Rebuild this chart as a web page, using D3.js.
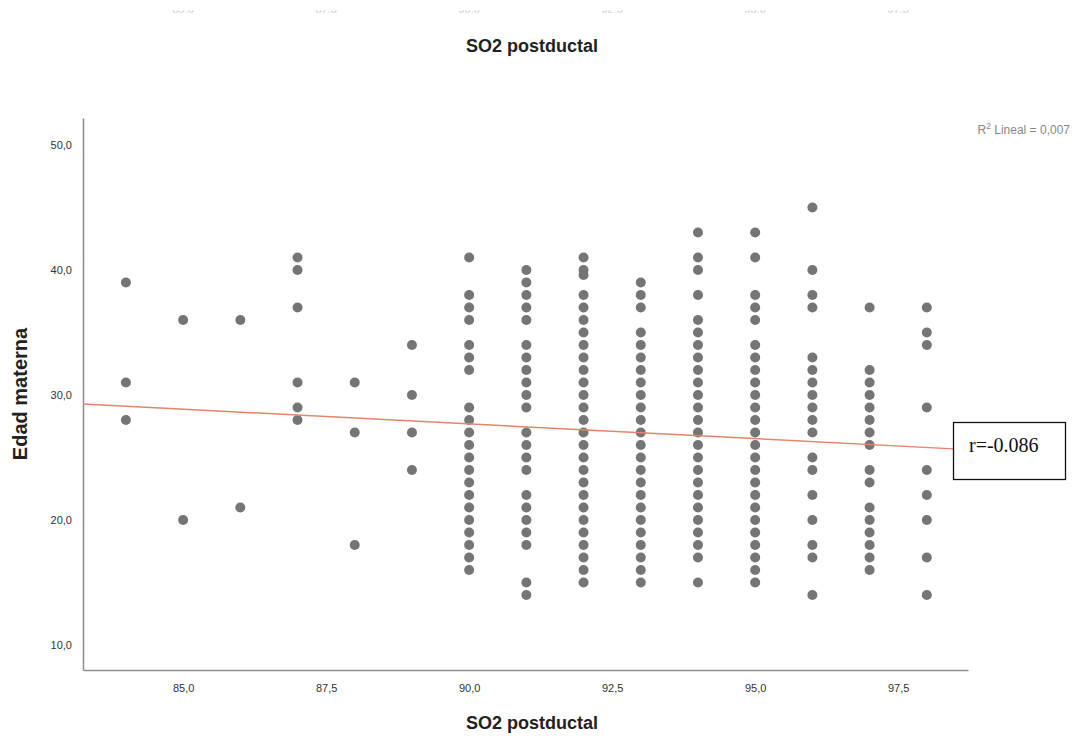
<!DOCTYPE html>
<html><head><meta charset="utf-8">
<script src="https://cdn.jsdelivr.net/npm/d3@7"></script>
<style>body{margin:0;background:#fff}svg{display:block}</style>
</head><body>
<svg id="c" width="1077" height="736"></svg>
<script>
// SO2 postductal value of each column
const so2 = [84, 85, 86, 87, 88, 89, 90, 91, 92, 93, 94, 95, 96, 97, 98];
// Edad materna values in each column
const col84 = [39, 31, 28];
const col85 = [36, 20];
const col86 = [36, 21];
const col87 = [41, 40, 37, 31, 29, 28];
const col88 = [31, 27, 18];
const col89 = [34, 30, 27, 24];
const col90 = [41, 38, 37, 36, 34, 33, 32, 29, 28, 27, 26, 25, 24, 23, 22, 21, 20, 19, 18, 17, 16];
const col91 = [40, 39, 38, 37, 36, 34, 33, 32, 31, 30, 29, 27, 26, 25, 24, 22, 21, 20, 19, 18, 15, 14];
const col92 = [41, 40, 39.6, 38, 37, 36, 35, 34, 33, 32, 31, 30, 29, 28, 27, 26, 25, 24, 23, 22, 21, 20, 19, 18, 17, 16, 15];
const col93 = [39, 38, 37, 35, 34, 33, 32, 31, 30, 29, 28, 27, 26, 25, 24, 23, 22, 21, 20, 19, 18, 17, 16, 15];
const col94 = [43, 41, 40, 38, 36, 35, 34, 33, 32, 31, 30, 29, 28, 27, 26, 25, 24, 23, 22, 21, 20, 19, 18, 17, 15];
const col95 = [43, 41, 38, 37, 36, 34, 33, 32, 31, 30, 29, 28, 27, 26, 25, 24, 23, 22, 21, 20, 19, 18, 17, 16, 15];
const col96 = [45, 40, 38, 37, 33, 32, 31, 30, 29, 28, 27, 25, 24, 22, 20, 18, 17, 14];
const col97 = [37, 32, 31, 30, 29, 28, 27, 26, 24, 23, 21, 20, 19, 18, 17, 16];
const col98 = [37, 35, 34, 29, 24, 22, 20, 17, 14];
const columns = [col84, col85, col86, col87, col88, col89, col90, col91, col92, col93, col94, col95, col96, col97, col98];

const xTicks = [85, 87.5, 90, 92.5, 95, 97.5];
const yTicks = [10, 20, 30, 40, 50];
const xDomain = [83.25, 98.72];
const yDomain = [8, 52.16];
// fitted line (value at both ends of x domain)
const fitX = [83.25, 98.72];
const fitY = [29.28, 25.63];
const title = "SO2 postductal";
const yTitle = "Edad materna";
const r2Label = "Lineal = 0,007";
const rLabel = "r=-0.086";

const fmt = v => v.toFixed(1).replace(".", ",");
const points = [];
so2.forEach((s, i) => columns[i].forEach(v => points.push({x: s, y: v})));

const svg = d3.select("#c");
const x = d3.scaleLinear().domain(xDomain).range([83, 968]);
const y = d3.scaleLinear().domain(yDomain).range([670, 118]);
const font = "'Liberation Sans', Arial, sans-serif";

// cut-off tick labels from the chart above
svg.append("clipPath").attr("id", "topclip").append("rect")
  .attr("x", 0).attr("y", 10.5).attr("width", 1077).attr("height", 2);
svg.append("g").attr("clip-path", "url(#topclip)")
  .selectAll("text").data(xTicks).join("text")
  .attr("x", d => x(d)).attr("y", 12.5).attr("text-anchor", "middle")
  .attr("font-family", font).attr("font-size", 11).attr("fill", "#bbb")
  .text(fmt);

svg.append("text").attr("x", 532).attr("y", 52).attr("text-anchor", "middle")
  .attr("font-family", font).attr("font-weight", "bold").attr("font-size", 18)
  .attr("fill", "#222").text(title);

// axes
const xAxis = d3.axisBottom(x).tickValues(xTicks).tickFormat(fmt).tickSize(0).tickPadding(14);
const gx = svg.append("g").attr("transform", "translate(0,670)").call(xAxis);
const yAxis = d3.axisLeft(y).tickValues(yTicks).tickFormat(fmt).tickSize(0).tickPadding(11);
const gy = svg.append("g").attr("transform", "translate(83,0)").call(yAxis);
[gx, gy].forEach(g => {
  g.select(".domain").attr("stroke", "#8c8c8c").attr("stroke-width", 1.5);
  g.selectAll("text").attr("font-family", font).attr("font-size", 11).attr("fill", "#333");
});

// points
svg.append("g").selectAll("circle").data(points).join("circle")
  .attr("cx", d => x(d.x)).attr("cy", d => y(d.y)).attr("r", 5)
  .attr("fill", "#757575");

// fit line
svg.append("path").datum([0, 1])
  .attr("d", d3.line().x(i => x(fitX[i])).y(i => y(fitY[i])))
  .attr("stroke", "#e4846c").attr("stroke-width", 1.5).attr("fill", "none");

// r box
svg.append("rect").attr("x", 953.5).attr("y", 422.5).attr("width", 112).attr("height", 57)
  .attr("fill", "#fff").attr("stroke", "#111").attr("stroke-width", 1.3);
svg.append("text").attr("x", 969).attr("y", 452)
  .attr("font-family", "'Liberation Serif', 'Times New Roman', serif").attr("font-size", 20)
  .attr("fill", "#111").text(rLabel);

// R2 label
const r2 = svg.append("text").attr("x", 1070).attr("y", 134).attr("text-anchor", "end")
  .attr("font-family", font).attr("font-size", 12).attr("fill", "#888");
r2.append("tspan").text("R");
r2.append("tspan").attr("dy", -5).attr("font-size", 8.5).text("2");
r2.append("tspan").attr("dy", 5).text(" " + r2Label);

svg.append("text").attr("x", 532).attr("y", 729).attr("text-anchor", "middle")
  .attr("font-family", font).attr("font-weight", "bold").attr("font-size", 18)
  .attr("fill", "#222").text(title);

svg.append("text").attr("transform", "translate(27,394) rotate(-90)").attr("text-anchor", "middle")
  .attr("font-family", font).attr("font-weight", "bold").attr("font-size", 20)
  .attr("fill", "#222").text(yTitle);
</script>
</body></html>
